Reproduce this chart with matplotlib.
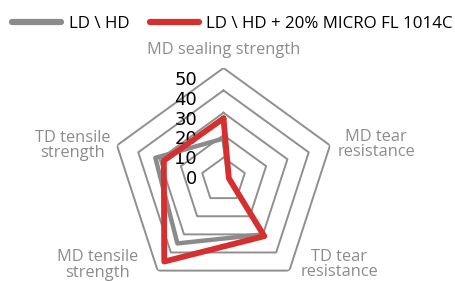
import numpy as np
import matplotlib
matplotlib.use('Agg')
import matplotlib.pyplot as plt

# data
categories = ['MD sealing strength', 'MD tear\nresistance', 'TD tear\nresistance',
              'MD tensile\nstrength', 'TD tensile\nstrength']
ld_hd = [18.5, 2.5, 30, 35, 32]
ld_hd_micro = [27.5, 2.5, 31, 45, 28]
series_names = ['LD \\ HD', 'LD \\ HD + 20% MICRO FL 1014C']
r_ticks = [0, 10, 20, 30, 40, 50]

gray = '#8a8c8c'
grid_col = '#8f8f8f'
red = '#d62f2f'
label_col = '#8c8c8c'

plt.rcParams['font.family'] = ['Open Sans', 'DejaVu Sans']

fig = plt.figure(figsize=(4.55, 2.82), dpi=100)
W, H = 455, 282
cx, cy, R = 223.5, 180, 112
ax = fig.add_axes([(cx - R) / W, (H - cy - R) / H, 2 * R / W, 2 * R / H], projection='polar')
ax.set_theta_zero_location('N')
ax.set_theta_direction(-1)

n = len(categories)
angles = np.linspace(0, 2 * np.pi, n, endpoint=False)
ang_c = np.append(angles, angles[0])

# pentagon grid
for lv in r_ticks[1:]:
    ax.plot(ang_c, [lv] * (n + 1), color=grid_col, lw=1.4, zorder=1)

ax.plot(ang_c, ld_hd + ld_hd[:1], color=gray, lw=3.2, zorder=3, label=series_names[0],
        solid_capstyle='round')
ax.plot(ang_c, ld_hd_micro + ld_hd_micro[:1], color=red, lw=4.2, zorder=4, label=series_names[1],
        solid_capstyle='round')

ax.set_ylim(0, 50)
ax.set_xticks([])
ax.set_yticks([])
ax.grid(False)
ax.spines['polar'].set_visible(False)
ax.patch.set_visible(False)

# radial tick labels
for v in r_ticks:
    ax.annotate(str(v), xy=(0, v * 0.88 + 0.5), xytext=(-19, 0), textcoords='offset points',
                ha='right', va='center', fontsize=13, color='black', family='DejaVu Sans',
                zorder=2)

# category labels
lab_pos = [(0, 58), (77, 70), (126, 64), (236, 68), (283, 69)]
for txt, (a, r) in zip(categories, lab_pos):
    ax.text(np.deg2rad(a), r, txt, ha='center', va='center', fontsize=11.8, color=label_col,
            linespacing=0.95)

leg = fig.legend(loc='upper center', bbox_to_anchor=(0.511, 0.997), ncol=2, frameon=False,
                 fontsize=12.2, handlelength=2.9, handletextpad=0.45, columnspacing=1.2)
for line in leg.get_lines():
    line.set_linewidth(4.5)

fig.savefig('out.png', dpi=100)
